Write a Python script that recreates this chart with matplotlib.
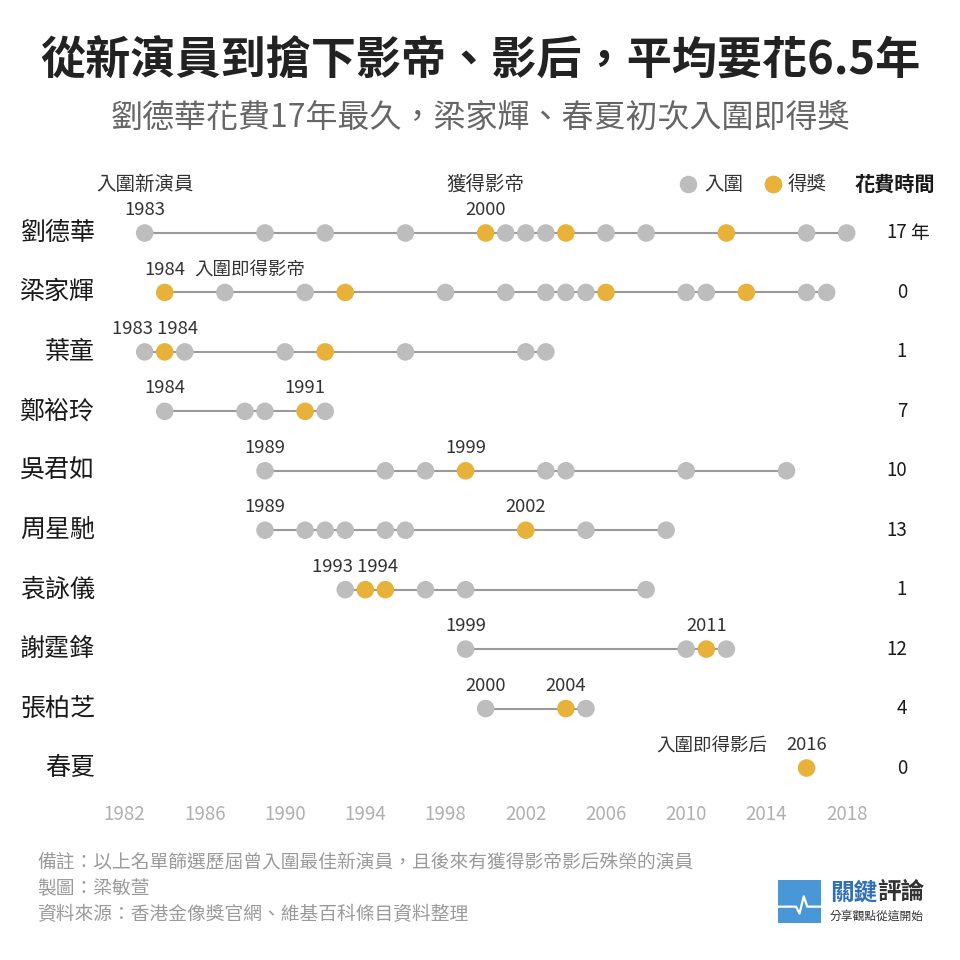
import matplotlib
matplotlib.use('Agg')
from matplotlib import pyplot as plt
from matplotlib.transforms import blended_transform_factory
from matplotlib.patches import Rectangle

plt.rcParams['font.family'] = ['Noto Sans CJK TC', 'DejaVu Sans']

# ---- data -------------------------------------------------------------
names = ['劉德華', '梁家輝', '葉童', '鄭裕玲', '吳君如',
         '周星馳', '袁詠儀', '謝霆鋒', '張柏芝', '春夏']
nominated = [
    [1983, 1989, 1992, 1996, 2001, 2002, 2003, 2006, 2008, 2016, 2018],
    [1987, 1991, 1998, 2001, 2003, 2004, 2005, 2010, 2011, 2016, 2017],
    [1983, 1985, 1990, 1996, 2002, 2003],
    [1984, 1988, 1989, 1992],
    [1989, 1995, 1997, 2003, 2004, 2010, 2015],
    [1989, 1991, 1992, 1993, 1995, 1996, 2005, 2009],
    [1993, 1997, 1999, 2008],
    [1999, 2010, 2012],
    [2000, 2005],
    [],
]
won = [
    [2000, 2004, 2012],
    [1984, 1993, 2006, 2013],
    [1984, 1992],
    [1991],
    [1999],
    [2002],
    [1994, 1995],
    [2011],
    [2004],
    [2016],
]
spent = ['17', '0', '1', '7', '10', '13', '1', '12', '4', '0']
# year labels shown above each row: (text, x position in years)
year_labels = [
    [('1983', 1983), ('2000', 2000)],
    [('1984', 1984)],
    [('1983 1984', 1983.5)],
    [('1984', 1984), ('1991', 1991)],
    [('1989', 1989), ('1999', 1999)],
    [('1989', 1989), ('2002', 2002)],
    [('1993 1994', 1993.5)],
    [('1999', 1999), ('2011', 2011)],
    [('2000', 2000), ('2004', 2004)],
    [('2016', 2016)],
]
year_ticks = list(range(1982, 2019, 4))

GRAY = '#bdbdbd'
GOLD = '#e8b13a'
LINE = '#9a9a9a'
TXT = '#333333'
DARK = '#1a1a1a'

fig = plt.figure(figsize=(9.6, 9.6), dpi=100)
fig.patch.set_facecolor('white')

ax = fig.add_axes([124.6 / 960, 0.2, 722.1 / 960, 535 / 960])
ax.set_xlim(1982, 2018)
ax.set_ylim(len(names) - 1, 0)

for i in range(len(names)):
    years = nominated[i] + won[i]
    if len(years) > 1:
        ax.plot([min(years), max(years)], [i, i], color=LINE, lw=1.5,
                zorder=1, clip_on=False)
    if nominated[i]:
        ax.scatter(nominated[i], [i] * len(nominated[i]), s=160, color=GRAY,
                   edgecolors='none', zorder=2, clip_on=False)
    ax.scatter(won[i], [i] * len(won[i]), s=160, color=GOLD,
               edgecolors='none', zorder=3, clip_on=False)
    for label, x in year_labels[i]:
        ax.annotate(label, (x, i), xytext=(0, 10), textcoords='offset points',
                    ha='center', va='bottom', fontsize=13.3, color=TXT)

# notes for the immediate winners
ax.annotate('入圍即得影帝', (1984, 1), xytext=(21, 10), textcoords='offset points',
            ha='left', va='bottom', fontsize=13.3, color=TXT)
ax.annotate('入圍即得影后', (2016, 9), xytext=(-28, 10), textcoords='offset points',
            ha='right', va='bottom', fontsize=13.3, color=TXT)

# column headers
ax.text(1983, -0.82, '入圍新演員', ha='center', va='center', fontsize=14, color=TXT)
ax.text(2000, -0.82, '獲得影帝', ha='center', va='center', fontsize=14, color=TXT)

# names and time spent
tr = blended_transform_factory(fig.transFigure, ax.transData)
for i, name in enumerate(names):
    ax.text(95 / 960, i, name, transform=tr, ha='right', va='center',
            fontsize=18, fontweight='medium', color=DARK)
    ax.text(907 / 960, i, spent[i], transform=tr, ha='right', va='center',
            fontsize=13.5, color=DARK)
ax.text(910 / 960, 0, '年', transform=tr, ha='left', va='center',
        fontsize=13.5, color=DARK)

# legend + right header
ax.plot([688 / 960, 773 / 960], [-0.82, -0.82], linestyle='none', marker='o',
        markersize=12.6, markeredgewidth=0, color=GRAY, transform=tr, clip_on=False)
ax.plot([773 / 960], [-0.82], linestyle='none', marker='o', markersize=12.6,
        markeredgewidth=0, color=GOLD, transform=tr, clip_on=False)
ax.text(704 / 960, -0.82, '入圍', transform=tr, ha='left', va='center',
        fontsize=14, color=TXT)
ax.text(788 / 960, -0.82, '得獎', transform=tr, ha='left', va='center',
        fontsize=14, color=TXT)
ax.text(895 / 960, -0.82, '花費時間', transform=tr, ha='center', va='center',
        fontsize=14.5, fontweight='bold', color=DARK)

ax.set_xticks(year_ticks)
ax.set_xticklabels([str(y) for y in year_ticks])
ax.tick_params(axis='x', length=0, pad=26, labelsize=13.5, labelcolor='#b0b0b0')
ax.set_yticks([])
for spine in ax.spines.values():
    spine.set_visible(False)

# titles
fig.text(0.5, 1 - 62 / 960, '從新演員到搶下影帝、影后，平均要花6.5年', ha='center',
         va='center', fontsize=32.5, fontweight='bold', color='#222222')
fig.text(0.5, 1 - 118 / 960, '劉德華花費17年最久，梁家輝、春夏初次入圍即得獎',
         ha='center', va='center', fontsize=23, fontweight='medium', color='#666666')

# footnotes
notes = ['備註：以上名單篩選歷屆曾入圍最佳新演員，且後來有獲得影帝影后殊榮的演員',
         '製圖：梁敏萱',
         '資料來源：香港金像獎官網、維基百科條目資料整理']
for k, line in enumerate(notes):
    fig.text(37 / 960, 1 - (862 + 26.5 * k) / 960, line, ha='left', va='center',
             fontsize=13.5, color='#9a9a9a')

# logo
lax = fig.add_axes([778 / 960, 1 - 923 / 960, 43 / 960, 43 / 960])
lax.set_xlim(0, 1)
lax.set_ylim(0, 1)
lax.axis('off')
lax.add_patch(Rectangle((0, 0), 1, 1, color='#4a97d8'))
lax.plot([0, 0.42, 0.5, 0.6, 0.68, 0.76, 1],
         [0.38, 0.38, 0.22, 0.62, 0.38, 0.38, 0.38], color='white', lw=1.6)
fig.text(830 / 960, 1 - 892 / 960, '關鍵', ha='left', va='center', fontsize=17,
         fontweight='bold', color='#2f6fb5')
fig.text(877 / 960, 1 - 892 / 960, '評論', ha='left', va='center', fontsize=17,
         fontweight='bold', color='#333333')
fig.text(830 / 960, 1 - 916 / 960, '分享觀點從這開始', ha='left', va='center',
         fontsize=8.5, color='#333333')

fig.savefig('out.png', dpi=100)
